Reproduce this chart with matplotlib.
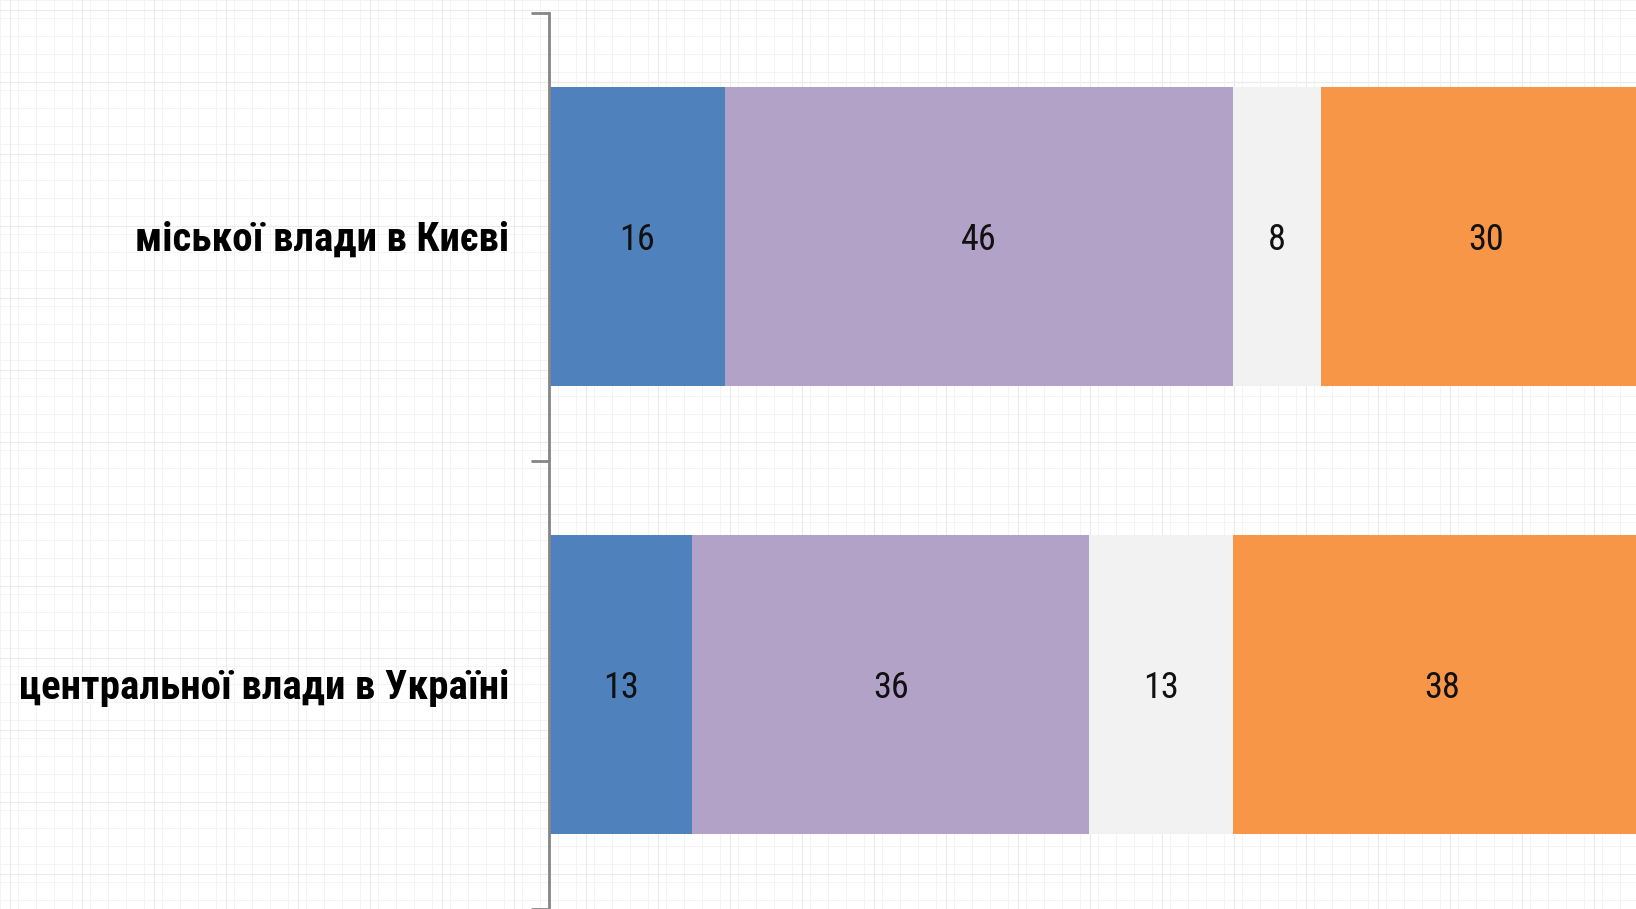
import matplotlib
matplotlib.use("Agg")
import matplotlib.pyplot as plt
import matplotlib.transforms as mtransforms
import numpy as np

categories = ["міської влади в Києві", "центральної влади в Україні"]
s1 = [16, 13]
s2 = [46, 36]
s3 = [8, 13]
s4 = [30, 38]
colors = ["#4F81BD", "#B3A2C7", "#F2F2F2", "#F79646"]

fam = ["Roboto Condensed", "Liberation Sans", "DejaVu Sans"]

W, H = 1636, 909
fig = plt.figure(figsize=(W / 100, H / 100), dpi=100)
fig.patch.set_facecolor("white")

# graph paper background
bg = fig.add_axes([0, 0, 1, 1], zorder=0)
bg.set_xlim(0, W)
bg.set_ylim(H, 0)
bg.axis("off")
for x in np.arange(0, W, 18):
    bg.axvline(x, color="#f4f4f4", lw=0.7)
for y in np.arange(0, H, 18):
    bg.axhline(y, color="#f4f4f4", lw=0.7)
for x in np.arange(10, W, 72):
    bg.axvline(x, color="#ebebeb", lw=0.8)
for y in np.arange(10, H, 72):
    bg.axhline(y, color="#ebebeb", lw=0.8)

left = 549 / W
top = 12.5 / H
ax = fig.add_axes([left, 0.0, 1103 / W, 1 - top], zorder=1)
ax.patch.set_alpha(0)

down = mtransforms.ScaledTranslation(0, -3 / 100, fig.dpi_scale_trans)

ypos = np.arange(len(categories))
series = [s1, s2, s3, s4]
lefts = np.zeros(len(categories))
for vals, c in zip(series, colors):
    bars = ax.barh(ypos, vals, left=lefts, height=0.667, color=c, edgecolor="none")
    for b, v in zip(bars, vals):
        ax.text(b.get_x() + b.get_width() / 2, b.get_y() + b.get_height() / 2, str(v),
                ha="center", va="center", fontsize=26, color="#111111", family=fam,
                transform=ax.transData + down)
    lefts += np.array(vals)

ax.set_xlim(0, 100)
ax.set_ylim(1.5, -0.5)
for s in ["top", "right", "bottom"]:
    ax.spines[s].set_visible(False)
ax.spines["left"].set_color("#868686")
ax.spines["left"].set_linewidth(2)
ax.set_xticks([])
ax.set_yticks([-0.5, 0.5, 1.5])
ax.set_yticklabels([])
ax.tick_params(axis="y", length=13, width=2, color="#868686")
trans = mtransforms.blended_transform_factory(fig.transFigure, ax.transData) + down
for y, lab in zip(ypos, categories):
    ax.text(509 / W, y, lab, transform=trans, ha="right", va="center",
            fontsize=29.5, fontweight="bold", family=fam, color="black")

fig.savefig("out.png", dpi=100)
